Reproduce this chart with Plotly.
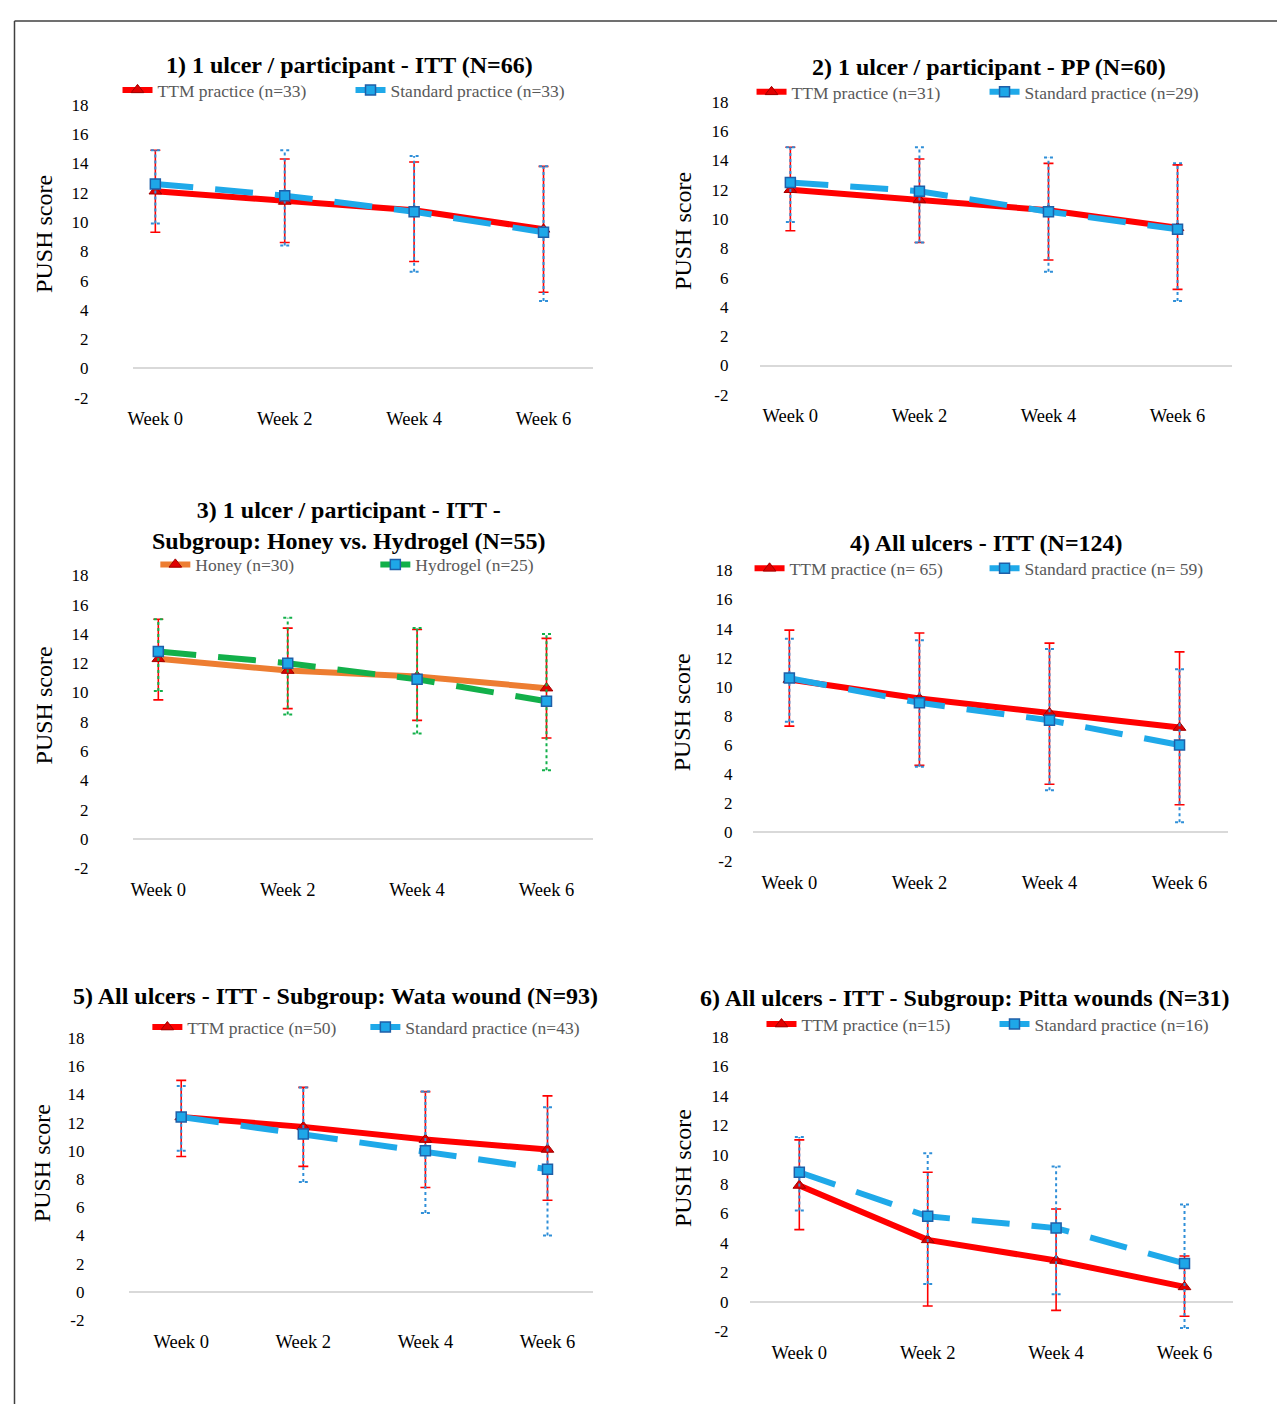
import plotly.graph_objects as go

# ---------------- data ----------------
weeks = ["Week 0", "Week 2", "Week 4", "Week 6"]
y_ticks = [-2, 0, 2, 4, 6, 8, 10, 12, 14, 16, 18]

# Panel 1: 1 ulcer / participant - ITT
p1_ttm_mean = [12.1, 11.4, 10.8, 9.5]
p1_ttm_hi = [14.9, 14.3, 14.1, 13.8]
p1_ttm_lo = [9.3, 8.6, 7.3, 5.2]
p1_std_mean = [12.6, 11.8, 10.7, 9.3]
p1_std_hi = [14.9, 14.9, 14.5, 13.8]
p1_std_lo = [9.9, 8.4, 6.6, 4.6]

# Panel 2: 1 ulcer / participant - PP
p2_ttm_mean = [12.0, 11.3, 10.6, 9.4]
p2_ttm_hi = [14.9, 14.1, 13.8, 13.7]
p2_ttm_lo = [9.2, 8.4, 7.2, 5.2]
p2_std_mean = [12.5, 11.9, 10.5, 9.3]
p2_std_hi = [14.9, 14.9, 14.2, 13.8]
p2_std_lo = [9.8, 8.4, 6.4, 4.4]

# Panel 3: Honey vs Hydrogel
p3_honey_mean = [12.3, 11.5, 11.1, 10.3]
p3_honey_hi = [15.0, 14.4, 14.3, 13.7]
p3_honey_lo = [9.5, 8.9, 8.1, 6.9]
p3_hydro_mean = [12.8, 12.0, 10.9, 9.4]
p3_hydro_hi = [15.0, 15.1, 14.4, 14.0]
p3_hydro_lo = [10.1, 8.5, 7.2, 4.7]

# Panel 4: All ulcers - ITT
p4_ttm_mean = [10.5, 9.2, 8.2, 7.2]
p4_ttm_hi = [13.9, 13.7, 13.0, 12.4]
p4_ttm_lo = [7.3, 4.6, 3.3, 1.9]
p4_std_mean = [10.6, 8.9, 7.7, 6.0]
p4_std_hi = [13.3, 13.2, 12.6, 11.2]
p4_std_lo = [7.6, 4.5, 2.9, 0.7]

# Panel 5: Wata wound
p5_ttm_mean = [12.4, 11.7, 10.8, 10.1]
p5_ttm_hi = [15.0, 14.5, 14.2, 13.9]
p5_ttm_lo = [9.6, 8.9, 7.4, 6.5]
p5_std_mean = [12.4, 11.2, 10.0, 8.7]
p5_std_hi = [14.6, 14.5, 14.2, 13.1]
p5_std_lo = [10.0, 7.8, 5.6, 4.0]

# Panel 6: Pitta wounds
p6_ttm_mean = [7.9, 4.2, 2.8, 1.0]
p6_ttm_hi = [11.0, 8.8, 6.3, 3.1]
p6_ttm_lo = [4.9, -0.3, -0.6, -1.0]
p6_std_mean = [8.8, 5.8, 5.0, 2.6]
p6_std_hi = [11.2, 10.1, 9.2, 6.6]
p6_std_lo = [6.2, 1.2, 0.5, -1.8]

titles = [
    "1) 1 ulcer / participant - ITT (N=66)",
    "2) 1 ulcer / participant - PP (N=60)",
    "3) 1 ulcer / participant - ITT -<br>Subgroup: Honey vs. Hydrogel (N=55)",
    "4) All ulcers - ITT (N=124)",
    "5) All ulcers - ITT - Subgroup: Wata wound (N=93)",
    "6) All ulcers - ITT - Subgroup: Pitta wounds (N=31)",
]
series_names = [
    ("TTM practice (n=33)", "Standard practice (n=33)"),
    ("TTM practice (n=31)", "Standard practice (n=29)"),
    ("Honey (n=30)", "Hydrogel (n=25)"),
    ("TTM practice (n= 65)", "Standard practice (n= 59)"),
    ("TTM practice (n=50)", "Standard practice (n=43)"),
    ("TTM practice (n=15)", "Standard practice (n=16)"),
]
series_a = [
    (p1_ttm_mean, p1_ttm_hi, p1_ttm_lo),
    (p2_ttm_mean, p2_ttm_hi, p2_ttm_lo),
    (p3_honey_mean, p3_honey_hi, p3_honey_lo),
    (p4_ttm_mean, p4_ttm_hi, p4_ttm_lo),
    (p5_ttm_mean, p5_ttm_hi, p5_ttm_lo),
    (p6_ttm_mean, p6_ttm_hi, p6_ttm_lo),
]
series_b = [
    (p1_std_mean, p1_std_hi, p1_std_lo),
    (p2_std_mean, p2_std_hi, p2_std_lo),
    (p3_hydro_mean, p3_hydro_hi, p3_hydro_lo),
    (p4_std_mean, p4_std_hi, p4_std_lo),
    (p5_std_mean, p5_std_hi, p5_std_lo),
    (p6_std_mean, p6_std_hi, p6_std_lo),
]

# ---------------- layout (pixel geometry in page coordinates) ----------------
W, H = 1285, 1406
OFF = 8  # default body margin of the page offsets the figure
FONT = "Liberation Serif, Times New Roman, serif"

def fx(p):
    return (p - OFF) / W

def fy(p):
    return 1 - (p - OFF) / H

# x0,x1: plot area; w0,w6: pixel of first/last week; ytop (18), ybot (-2)
panels = [
    dict(x0=128, x1=590, w0=150, w6=540, ytop=97, ybot=394, tx=345, ty=57, ly=82, lx=112, ew=188, so=44, ytx=38, yty=228),
    dict(x0=757, x1=1232, w0=788, w6=1177, ytop=94, ybot=391, tx=988, ty=59, ly=84, lx=749, ew=188, so=30, ytx=680, yty=225),
    dict(x0=128, x1=590, w0=153, w6=543, ytop=574, ybot=871, tx=345, ty=523, ly=563, lx=150, ew=175, so=44, ytx=38, yty=706),
    dict(x0=750, x1=1228, w0=787, w6=1179, ytop=569, ybot=864, tx=985, ty=541, ly=567, lx=747, ew=190, so=19, ytx=680, yty=713),
    dict(x0=124, x1=590, w0=176, w6=544, ytop=1043, ybot=1329, tx=331, ty=1000, ly=1032, lx=142, ew=173, so=44, ytx=36, yty=1170),
    dict(x0=747, x1=1233, w0=797, w6=1184, ytop=1042, ybot=1340, tx=963, ty=1002, ly=1029, lx=759, ew=188, so=20, ytx=680, yty=1175),
]

RED = "#ff0000"
BLUE = "#1fa9e9"
ORANGE = "#ed7d31"
GREEN = "#12b04a"

fig = go.Figure()
layout = dict(
    width=W, height=H, autosize=False,
    margin=dict(l=0, r=0, t=0, b=0),
    paper_bgcolor="white", plot_bgcolor="white",
    showlegend=True,
    font=dict(family=FONT, color="#000000"),
    annotations=[], shapes=[],
)

for k, p in enumerate(panels):
    i = k + 1
    xa = "x" if i == 1 else f"x{i}"
    ya = "y" if i == 1 else f"y{i}"
    lg = "legend" if i == 1 else f"legend{i}"
    unit = (p["w6"] - p["w0"]) / 3.0
    xr = [(p["x0"] - p["w0"]) / unit, (p["x1"] - p["w0"]) / unit]
    cap = 4.5 / unit
    xs = list(range(len(weeks)))

    third = (k == 2)
    colA_line = ORANGE if third else RED
    colB_line = GREEN if third else BLUE
    colB_err = GREEN if third else "#2f8fd8"

    mA, hA, lA = series_a[k]
    mB, hB, lB = series_b[k]
    nA, nB = series_names[k]

    # series A: solid line with red error bars
    fig.add_trace(go.Scatter(
        x=xs, y=mA, mode="lines+markers", name=nA, legend=lg,
        xaxis=xa, yaxis=ya,
        line=dict(color=colA_line, width=6),
        marker=dict(symbol="triangle-up", size=11, color="#e00000",
                    line=dict(color="#a00000", width=1)),
        error_y=dict(type="data", symmetric=False,
                     array=[h - m for h, m in zip(hA, mA)],
                     arrayminus=[m - l for m, l in zip(mA, lA)],
                     color=RED, thickness=1.6, width=5),
    ))

    # series B dotted error bars (built from data)
    ex, ey = [], []
    for xi, m, h, l in zip(xs, mB, hB, lB):
        ex += [xi, xi, None, xi - cap, xi + cap, None, xi - cap, xi + cap, None]
        ey += [l, h, None, h, h, None, l, l, None]
    fig.add_trace(go.Scatter(
        x=ex, y=ey, mode="lines", showlegend=False, legend=lg,
        xaxis=xa, yaxis=ya, hoverinfo="skip",
        line=dict(color=colB_err, width=2, dash="dot"),
    ))

    # series B dashed line
    fig.add_trace(go.Scatter(
        x=xs, y=mB, mode="lines+markers", name=nB, legend=lg,
        xaxis=xa, yaxis=ya,
        line=dict(color=colB_line, width=6, dash="38px,22px"),
        marker=dict(symbol="square", size=10, color="#1ea7e8",
                    line=dict(color="#1f5fa8", width=1.5)),
    ))

    layout["xaxis" if i == 1 else f"xaxis{i}"] = dict(
        domain=[fx(p["x0"]), fx(p["x1"])], anchor=ya, range=xr,
        tickmode="array", tickvals=xs, ticktext=weeks,
        showgrid=False, zeroline=False, showline=False, ticks="",
        tickfont=dict(family=FONT, size=18.5, color="#000000"),
        ticklabelstandoff=8, fixedrange=True,
    )
    layout["yaxis" if i == 1 else f"yaxis{i}"] = dict(
        domain=[fy(p["ybot"]), fy(p["ytop"])], anchor=xa, range=[-2, 18],
        tickmode="array", tickvals=y_ticks, ticktext=[str(v) for v in y_ticks],
        showgrid=False, zeroline=True, zerolinecolor="#d9d9d9", zerolinewidth=2,
        showline=False, ticks="",
        tickfont=dict(family=FONT, size=17, color="#000000"),
        ticklabelstandoff=p["so"], fixedrange=True,
    )
    layout[lg] = dict(
        x=fx(p["lx"]), y=fy(p["ly"]), xanchor="left", yanchor="middle",
        orientation="h", bgcolor="rgba(0,0,0,0)",
        font=dict(family=FONT, size=17.5, color="#595959"),
        entrywidth=p["ew"], entrywidthmode="pixels",
    )
    layout["annotations"].append(dict(
        x=fx(p["tx"]), y=fy(p["ty"]), xref="paper", yref="paper",
        text=f"<b>{titles[k]}</b>", showarrow=False,
        xanchor="center", yanchor="middle",
        font=dict(family=FONT, size=24, color="#000000"),
    ))
    layout["annotations"].append(dict(
        x=fx(p["ytx"]), y=fy(p["yty"]), xref="paper", yref="paper",
        text="PUSH score", textangle=-90, showarrow=False,
        xanchor="center", yanchor="middle",
        font=dict(family=FONT, size=24, color="#000000"),
    ))

# outer frame (top and left edges)
layout["shapes"].append(dict(type="line", xref="paper", yref="paper",
                             x0=fx(8.5), x1=1.0, y0=fy(12), y1=fy(12),
                             line=dict(color="#404040", width=1.5)))
layout["shapes"].append(dict(type="line", xref="paper", yref="paper",
                             x0=fx(8.5), x1=fx(8.5), y0=fy(12), y1=0.0,
                             line=dict(color="#404040", width=1.5)))

fig.update_layout(**layout)
fig.write_html("out.html", config={"displayModeBar": False})
